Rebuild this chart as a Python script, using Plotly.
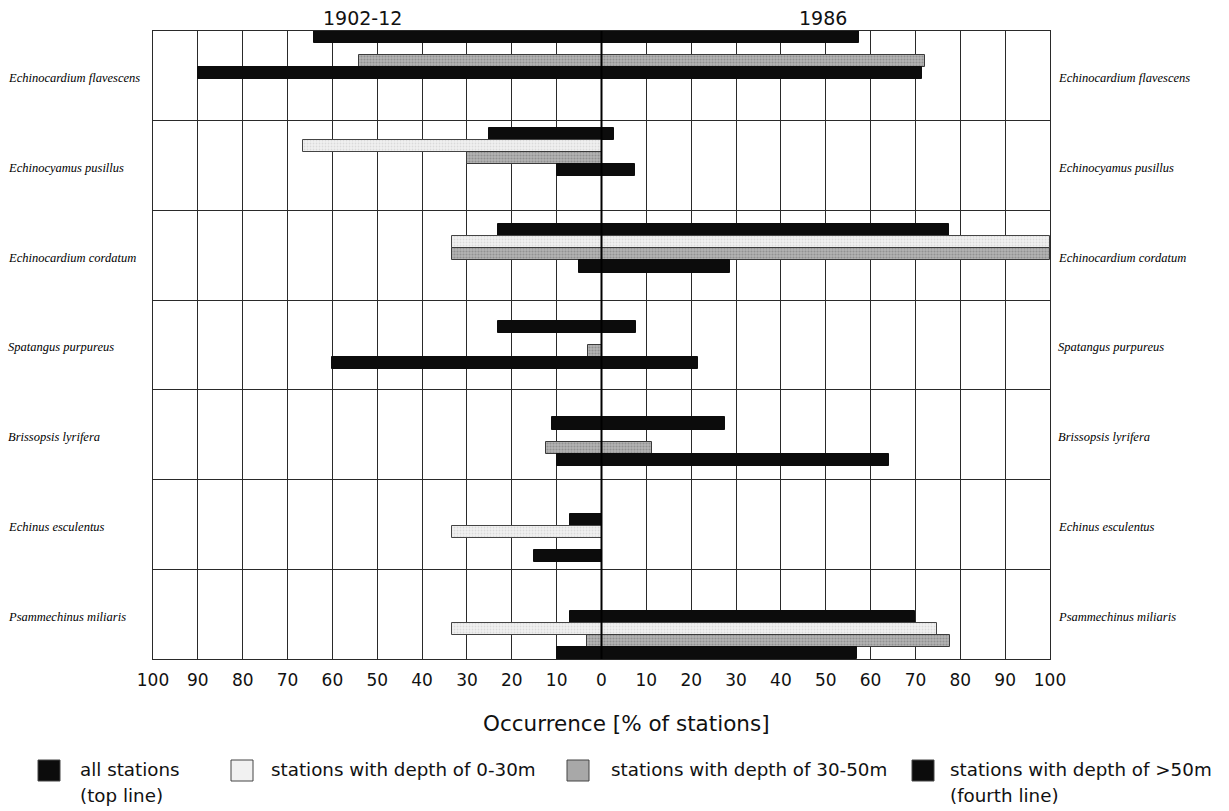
import plotly.graph_objects as go

# Echinoid species, top to bottom
species = [
    "Echinocardium flavescens",
    "Echinocyamus pusillus",
    "Echinocardium cordatum",
    "Spatangus purpureus",
    "Brissopsis lyrifera",
    "Echinus esculentus",
    "Psammechinus miliaris",
]

# Occurrence [% of stations]; 1902-12 is drawn to the left of zero, 1986 to the right
all_1902 = [64, 25, 23, 23, 11, 7, 7]
all_1986 = [57.5, 2.7, 77.5, 7.6, 27.5, 0, 70]
shallow_1902 = [None, 66.5, 33.3, None, None, 33.3, 33.3]
shallow_1986 = [None, 0, 100, None, None, 0, 74.7]
mid_1902 = [54, 30, 33.3, 3, 12.3, None, 3.2]
mid_1986 = [72.2, 0, 100, 0, 11.3, None, 77.6]
deep_1902 = [90, 10, 5, 60, 10, 15, 10]
deep_1986 = [71.5, 7.4, 28.6, 21.5, 64.2, 0, 57]

x_ticks = list(range(-100, 101, 10))
x_ticktext = [str(abs(v)) for v in x_ticks]

FONT_SANS = "DejaVu Sans"
FONT_SERIF = "Liberation Serif"
INK = "#111111"

W, H = 1229, 811
L, R, T, B = 153, 179, 31, 152


def px_x(p):
    return (p - L) / (W - L - R)


def px_y(p):
    return (H - B - p) / (H - T - B)


series = [
    ("all stations", all_1902, all_1986,
     dict(color="#0c0c0c", line=dict(color="#0c0c0c", width=1))),
    ("stations with depth of 0-30m", shallow_1902, shallow_1986,
     dict(color="#f1f1f1", line=dict(color="#444444", width=1),
          pattern=dict(shape=".", fgcolor="#c4c4c4", bgcolor="#f1f1f1", size=3, solidity=0.3))),
    ("stations with depth of 30-50m", mid_1902, mid_1986,
     dict(color="#a8a8a8", line=dict(color="#3a3a3a", width=1),
          pattern=dict(shape=".", fgcolor="#6e6e6e", bgcolor="#b4b4b4", size=3, solidity=0.4))),
    ("stations with depth of >50m", deep_1902, deep_1986,
     dict(color="#0c0c0c", line=dict(color="#0c0c0c", width=1))),
]

n_species = len(species)
slots_per_species = 8
y_total = slots_per_species * (n_species - 1) + 4

fig = go.Figure()
for k, (name, left, right, marker) in enumerate(series):
    ys = [slots_per_species * i + k + 0.5 for i in range(n_species)]
    fig.add_trace(go.Bar(
        y=ys, x=[-v if v else None for v in left], orientation="h",
        width=1, marker=marker, name=name, showlegend=False,
    ))
    fig.add_trace(go.Bar(
        y=ys, x=[v if v else None for v in right], orientation="h",
        width=1, marker=marker, name=name, showlegend=False,
    ))

# species separators divide the panel into equal bands
sep_vals = [y_total * j / n_species for j in range(1, n_species)]

fig.update_layout(
    width=W, height=H,
    margin=dict(l=L, r=R, t=T, b=B),
    paper_bgcolor="white", plot_bgcolor="white",
    barmode="overlay",
    bargap=0,
    xaxis=dict(
        range=[-100, 100], tickvals=x_ticks, ticktext=x_ticktext,
        showgrid=True, gridcolor="#2a2a2a", gridwidth=1,
        zeroline=False, showline=True, mirror=True, linecolor="#2a2a2a", linewidth=1,
        ticks="", ticklabelstandoff=6,
        tickfont=dict(family=FONT_SANS, size=17, color=INK),
    ),
    yaxis=dict(
        range=[y_total, 0], tickvals=sep_vals, showticklabels=False,
        showgrid=True, gridcolor="#2a2a2a", gridwidth=1,
        zeroline=False, showline=True, mirror=True, linecolor="#2a2a2a", linewidth=1,
        ticks="",
    ),
)

# zero line between the two survey periods
fig.add_shape(type="line", xref="x", yref="paper", x0=0, x1=0, y0=0, y1=1,
              line=dict(color="#000000", width=2), layer="above")

annotations = []
for i, sp in enumerate(species):
    yc = y_total * (i + 0.5) / n_species + 0.2
    for xp in (px_x(6), px_x(1056)):
        annotations.append(dict(
            x=xp, xref="paper", y=yc, yref="y", text=sp, showarrow=False,
            xanchor="left", yanchor="middle",
            font=dict(family=FONT_SERIF, size=12.5, color="#000000", style="italic"),
        ))

for txt, xc in (("1902-12", 362), ("1986", 823)):
    annotations.append(dict(
        x=px_x(xc), xref="paper", y=px_y(18), yref="paper", text=txt,
        showarrow=False, xanchor="center", yanchor="middle",
        font=dict(family=FONT_SANS, size=19, color=INK),
    ))

annotations.append(dict(
    x=px_x(626), xref="paper", y=px_y(723), yref="paper",
    text="Occurrence [% of stations]", showarrow=False,
    xanchor="center", yanchor="middle",
    font=dict(family=FONT_SANS, size=21.5, color=INK),
))

# legend: swatch position and text lines
legend_items = [
    (38, 80, ["all stations", "(top line)"], series[0][3]),
    (231, 271, ["stations with depth of 0-30m"], series[1][3]),
    (567, 611, ["stations with depth of 30-50m"], series[2][3]),
    (912, 950, ["stations with depth of >50m", "(fourth line)"], series[3][3]),
]
shapes = []
for sx, tx, lines, mk in legend_items:
    fill = mk["color"]
    shapes.append(dict(
        type="rect", xref="paper", yref="paper",
        x0=px_x(sx), x1=px_x(sx + 22), y0=px_y(760), y1=px_y(781),
        fillcolor=fill, line=dict(color="#444444", width=1),
    ))
    for j, ln in enumerate(lines):
        annotations.append(dict(
            x=px_x(tx - 2), xref="paper", y=px_y(770 + 25 * j), yref="paper",
            text=ln, showarrow=False, xanchor="left", yanchor="middle",
            font=dict(family=FONT_SANS, size=18.3, color=INK),
        ))

fig.update_layout(annotations=annotations)
for s in shapes:
    fig.add_shape(**s)

fig.write_html("out.html")
